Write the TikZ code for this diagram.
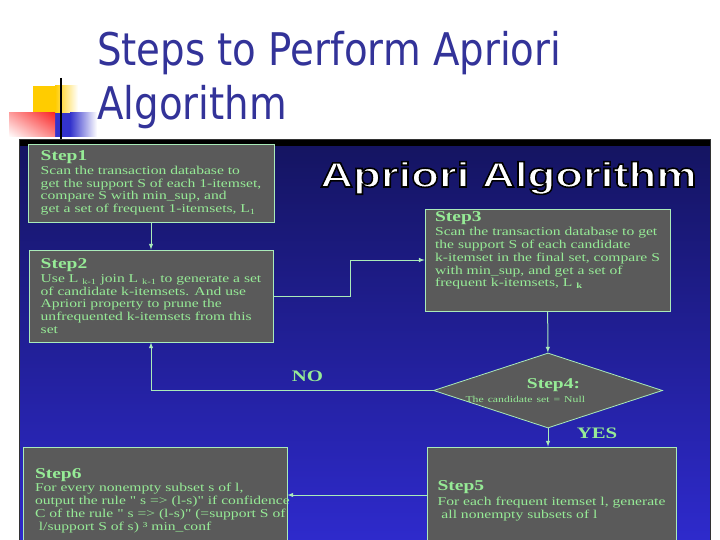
\documentclass[tikz,border=0pt]{standalone}
\usepackage{fontspec}
\usepackage{tikz}
\usetikzlibrary{shapes.geometric,shadings}
\setmainfont{Liberation Serif}
\newfontfamily\titlefont[FakeStretch=0.86]{DejaVu Sans}
\newfontfamily\bannerfont[FakeStretch=1.3]{Liberation Sans}
\newfontfamily\boxfont[FakeStretch=1.3]{Liberation Serif}
\definecolor{TitleBlue}{RGB}{51, 51, 153}
\definecolor{PanelTop}{RGB}{20, 20, 96}
\definecolor{PanelBottom}{RGB}{46, 42, 204}
\definecolor{BoxGrey}{RGB}{90, 90, 90}
\definecolor{Edge}{RGB}{170, 235, 185}
\definecolor{Leaf}{RGB}{150, 235, 150}
\definecolor{Sun}{RGB}{255, 204, 0}
\definecolor{Brick}{RGB}{250, 40, 40}
\definecolor{Royal}{RGB}{51, 51, 204}
\newcommand{\stephd}[1]{{\bfseries\fontsize{15}{15}\selectfont #1}}

\begin{document}
\begin{tikzpicture}[x=1pt, y=-1pt,
    stepbox/.style={rectangle, draw=Edge, line width=0.8pt, fill=BoxGrey, text=Leaf,
                    align=left, inner xsep=10pt, inner ysep=3pt,
                    font=\boxfont\fontsize{12}{12.8}\selectfont},
    decision/.style={diamond, aspect=3, draw=Edge, line width=0.8pt, fill=BoxGrey, text=Leaf,
                     align=right, text width=74pt, inner sep=0pt,
                     minimum width=229pt, minimum height=75pt,
                     font=\boxfont\fontsize{12}{12.8}\selectfont},
    arr/.style={->, >=latex, line width=1pt, Edge},
    answer/.style={anchor=base, text=Leaf, font=\boxfont\bfseries\fontsize{16}{16}\selectfont},
]
\useasboundingbox (0,0) rectangle (720,540);
\fill[white] (0,0) rectangle (720,540);

% slide decoration
\fill[Sun] (33,86) rectangle (55,120);
\shade[left color=Sun, right color=white] (55,86) rectangle (78,120);
\fill[Royal] (55,113) rectangle (70,137);
\shade[left color=Royal, right color=white] (70,113) rectangle (97,137);
\shade[upper left=Brick!45, upper right=Brick, lower left=white, lower right=Brick!55]
      (9,113) rectangle (55,137);
\draw[black, line width=2pt] (61,78) -- (61,140);

\node[anchor=base west, inner sep=0pt, text=TitleBlue, font=\titlefont\fontsize{45}{54}\selectfont]
      (title1) at (97,66) {Steps to Perform Apriori};
\node[anchor=base west, inner sep=0pt, text=TitleBlue, font=\titlefont\fontsize{45}{54}\selectfont]
      (title2) at (97,120) {Algorithm};

% picture panel
\shade[top color=PanelTop, bottom color=PanelBottom] (19,140) rectangle (710,540);
\fill[black] (19,140) rectangle (710,146);
\draw[black!80, line width=1pt] (19,140) rectangle (710,540);

\node[anchor=base, inner sep=0pt, text=white, font=\bannerfont\bfseries\fontsize{35}{35}\selectfont]
      (banner) at (508.5,187)
      {\special{pdf:literal direct 0 0 0 RG 1.6 w 2 Tr}Apriori Algorithm\special{pdf:literal direct 0 Tr}};

% steps
\node[stepbox, minimum width=246pt, minimum height=78pt]
      (s1) at (151,183) {\stephd{Step1}\\[1pt]
      Scan the transaction database to\\
      get the support S of each 1-itemset,\\
      compare S with min\_sup, and\\
      get a set of frequent 1-itemsets, L\textsubscript{1}};
\node[stepbox, minimum width=244pt, minimum height=92pt]
      (s2) at (151,296) {\stephd{Step2}\\[1pt]
      Use L \textsubscript{k-1} join L \textsubscript{k-1} to generate a set\\
      of candidate k-itemsets. And use\\
      Apriori property to prune the\\
      unfrequented k-itemsets from this\\
      set};
\node[stepbox, minimum width=243pt, minimum height=96pt, text depth=21pt]
      (s3) at (547.5,260) {\stephd{Step3}\\[1pt]
      Scan the transaction database to get\\
      the support S of each candidate\\
      k-itemset in the final set, compare S\\
      with min\_sup, and get a set of\\
      frequent k-itemsets, L \textsubscript{\bfseries k}};
\node[decision] (s4) at (548,390.5)
      {\makebox[0pt][r]{\stephd{Step4:}\hspace*{5pt}}\\[1pt]
      \makebox[0pt][r]{\fontsize{9}{10}\selectfont The candidate set = Null}};
\node[stepbox, minimum width=249pt, minimum height=96pt]
      (s5) at (551.5,495) {\rule{0pt}{21pt}\stephd{Step5}\\[2pt]
      For each frequent itemset l, generate\\
      \ all nonempty subsets of l};
\node[stepbox, minimum width=264pt, minimum height=96pt]
      (s6) at (155,495) {\rule{0pt}{21pt}\stephd{Step6}\\[1pt]
      For every nonempty subset s of l,\\
      \makebox[240pt][l]{output the rule " s => (l-s)" if confidence}\\
      \makebox[240pt][l]{C of the rule " s => (l-s)" (=support S of}\\
      \ l/support S of s) ³ min\_conf};

% connectors
\coordinate (bend) at (350,0);
\draw[arr] (s1) -- (s2);
\draw[arr] (s2.east) -- (s2.east -| bend) -- (s3.west -| bend) -- (s3.west);
\draw[arr] (s3) -- (s4);
\draw[arr] (s4.west) -| (s2.south);
\draw[arr] (s4.south) -- (s4.south |- s5.north);
\draw[arr] (s5.west) -- (s5.west -| s6.east);

\node[answer] (no) at (307.5,381) {NO};
\node[answer] (yes) at (597,438) {YES};
\end{tikzpicture}
\end{document}
